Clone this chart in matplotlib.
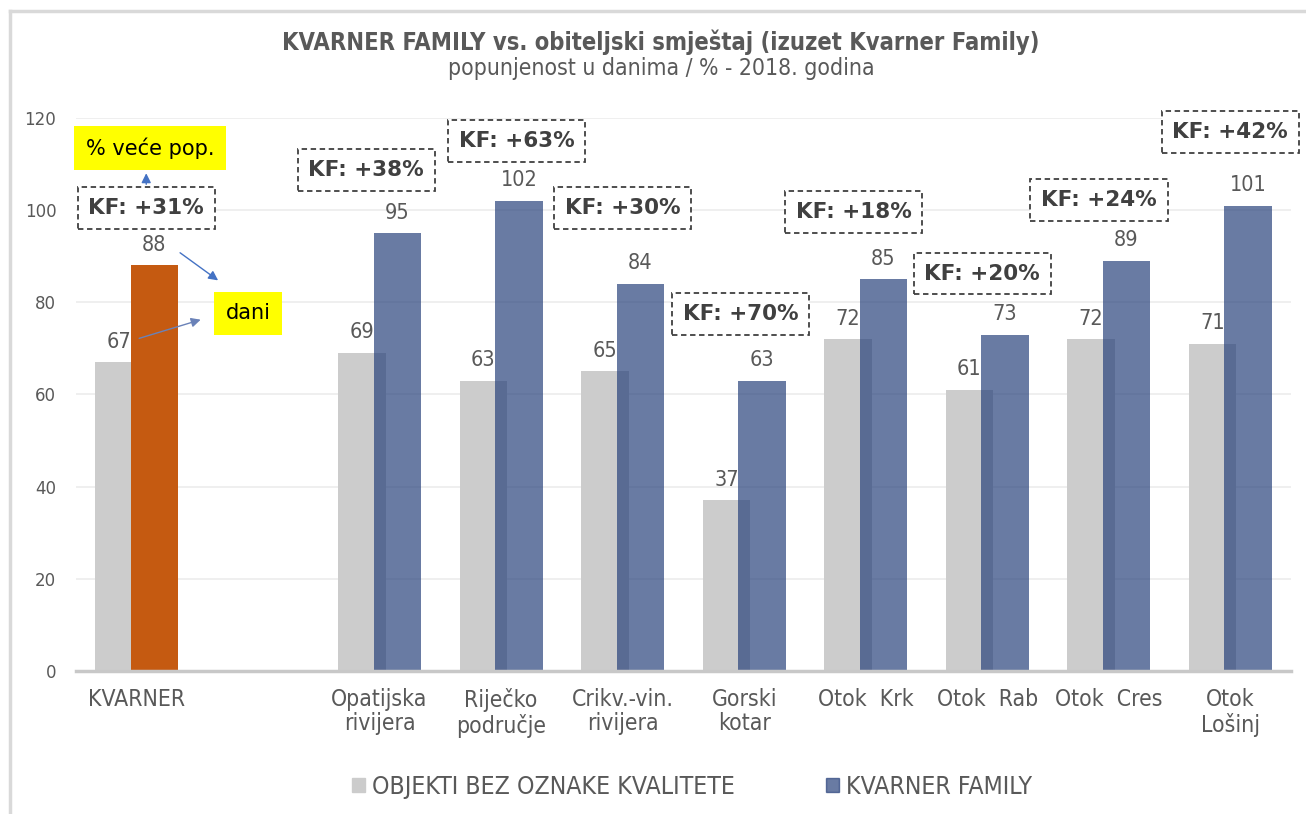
import numpy as np
import matplotlib.pyplot as plt
from matplotlib.lines import Line2D
from matplotlib.patches import Patch

# data
kategorije = ['KVARNER', '', 'Opatijska\nrivijera', 'Riječko\npodručje', 'Crikv.-vin.\nrivijera',
              'Gorski\nkotar', 'Otok  Krk', 'Otok  Rab', 'Otok  Cres', 'Otok\nLošinj']
bez_oznake = [67, None, 69, 63, 65, 37, 72, 61, 72, 71]
kv_family = [88, None, 95, 102, 84, 63, 85, 73, 89, 101]
kf_postotak = [31, 38, 63, 30, 70, 18, 20, 24, 42]

# label box positions (category index, y)
kf_pos = [(0.08, 100.5), (1.89, 108.7), (3.13, 115.0), (4.0, 100.5), (4.97, 77.5),
          (5.9, 99.6), (6.96, 86.2), (7.92, 102.2), (9.0, 117.0)]

siva = '#cccccc'
plava = '#26407a'
narancasta = '#c55a11'
tekst = '#595959'

plt.rcParams['font.family'] = ['DejaVu Sans']

fig = plt.figure(figsize=(13.06, 8.14), dpi=100)
ax = fig.add_axes([0.058, 0.1757, 0.9305, 0.6794])

x = np.arange(len(kategorije))
w = 0.39
off = 0.146
for i in range(len(kategorije)):
    if bez_oznake[i] is None:
        continue
    ax.bar(x[i] - off, bez_oznake[i], w, color=siva, zorder=2)
    if i == 0:
        ax.bar(x[i] + off, kv_family[i], w, color=narancasta, zorder=3)
    else:
        ax.bar(x[i] + off, kv_family[i], w, color=plava, alpha=0.69, linewidth=0, zorder=3)
    ax.text(x[i] - off, bez_oznake[i] + 2.3, str(bez_oznake[i]), ha='center', va='bottom',
            fontsize=15.5, color=tekst, fontstretch='condensed', zorder=4)
    ax.text(x[i] + off, kv_family[i] + 2.3, str(kv_family[i]), ha='center', va='bottom',
            fontsize=15.5, color=tekst, fontstretch='condensed', zorder=4)

for p, (px, py) in zip(kf_postotak, kf_pos):
    ax.text(px, py, f'KF: +{p}%', ha='center', va='center', fontsize=15.5, fontweight='bold',
            color='#404040', zorder=5,
            bbox=dict(boxstyle='square,pad=0.5', fc='white', ec='#404040', ls=(0, (3, 2)), lw=1.3))

ax.set_xlim(-0.5, len(kategorije) - 0.5)
ax.set_ylim(0, 120)
ax.set_yticks(np.arange(0, 121, 20))
ax.set_xticks(x)
ax.set_xticklabels(kategorije, fontsize=16.5, color=tekst, fontstretch='condensed', linespacing=1.1)
ax.tick_params(axis='y', labelsize=12, labelcolor=tekst, length=0, pad=14)
ax.tick_params(axis='x', length=0, pad=12)
ax.grid(axis='y', color='#ececec', lw=1.2, zorder=0)
for s in ['top', 'right', 'left']:
    ax.spines[s].set_visible(False)
ax.spines['bottom'].set_color('#c8c8c8')
ax.spines['bottom'].set_linewidth(2.5)
ax.spines['bottom'].set_zorder(4)

# yellow notes and arrows
ax.text(0.11, 113.5, '% veće pop.', ha='center', va='center', fontsize=15, color='black', zorder=6,
        bbox=dict(boxstyle='square,pad=0.55', fc='yellow', ec='none'))
ax.text(0.92, 77.6, 'dani', ha='center', va='center', fontsize=15, color='black', zorder=6,
        bbox=dict(boxstyle='square,pad=0.55', fc='yellow', ec='none'))
arr = dict(arrowstyle='-|>', color='#4472c4', lw=1, mutation_scale=14)
ax.annotate('', xy=(0.08, 108.6), xytext=(0.08, 105.0), arrowprops=arr, zorder=6)
ax.annotate('', xy=(0.69, 84.4), xytext=(0.34, 91.1), arrowprops=arr, zorder=6)
ax.annotate('', xy=(0.55, 76.4), xytext=(0.0, 72.0),
            arrowprops=dict(arrowstyle='-|>', color='#6a82b8', lw=1, mutation_scale=14), zorder=6)

# legend
handles = [Patch(color=siva), Patch(color=plava, alpha=0.69)]
fig.legend(handles, ['OBJEKTI BEZ OZNAKE KVALITETE', 'KVARNER FAMILY'], loc='center',
           bbox_to_anchor=(0.53, 0.033), ncol=2, frameon=False,
           prop=dict(size=17.8, stretch='condensed'), labelcolor=tekst,
           handlelength=0.5, handleheight=0.5, handletextpad=0.3, columnspacing=3.7)

# title
fig.text(0.506, 0.948, 'KVARNER FAMILY vs. obiteljski smještaj (izuzet Kvarner Family)',
         ha='center', va='center', fontsize=17, fontweight='bold', color=tekst, fontstretch='condensed')
fig.text(0.506, 0.916, 'popunjenost u danima / % - 2018. godina', ha='center', va='center',
         fontsize=16.5, color=tekst, fontstretch='condensed')

# chart border
fig.add_artist(Line2D([0.0075, 0.0075], [0, 0.986], color='#d9d9d9', lw=2.5, transform=fig.transFigure))
fig.add_artist(Line2D([0.0075, 1], [0.986, 0.986], color='#d9d9d9', lw=2.5, transform=fig.transFigure))

fig.savefig('out.png', dpi=100)
